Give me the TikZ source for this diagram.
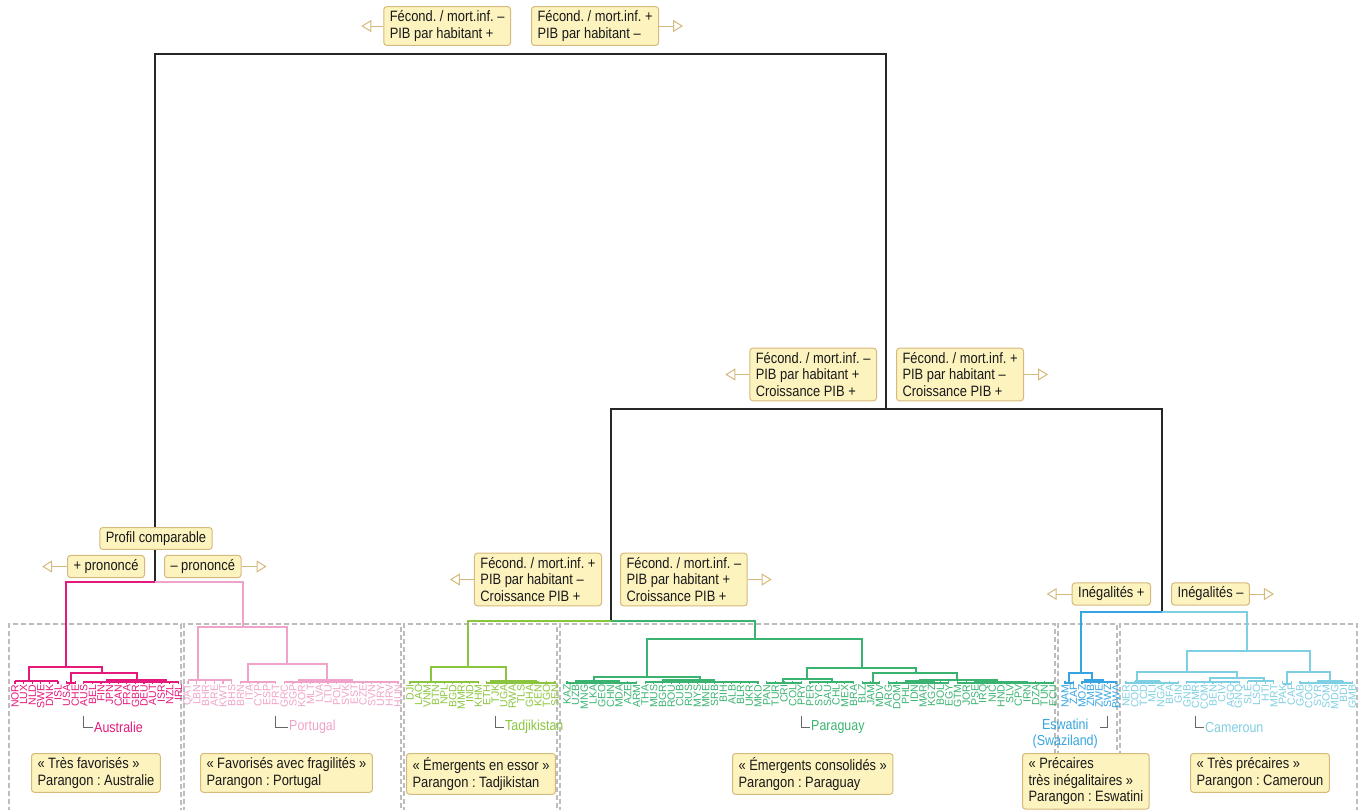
\documentclass[tikz,border=0pt]{standalone}
\usepackage{fontspec}
\setmainfont{Liberation Sans}[FakeStretch=0.86]
\newfontfamily\codefont{Liberation Sans}
\usetikzlibrary{arrows.meta}
\frenchspacing

\definecolor{tan}{HTML}{D6B97C}
\definecolor{cream}{HTML}{FCF3BF}
\definecolor{fav}{HTML}{E5197B}
\definecolor{fragil}{HTML}{F0A3C9}
\definecolor{essor}{HTML}{8BC53F}
\definecolor{consol}{HTML}{3BB370}
\definecolor{inegal}{HTML}{36A4E0}
\definecolor{precaire}{HTML}{7FCFE2}
\definecolor{framegray}{HTML}{BDBDBD}

\newcommand{\dlink}[5]{\draw (#1,#4) -- (#1,#3) -- (#2,#3) -- (#2,#5);}
\newcommand{\grp}[3]{\draw (#1,#3) -- (#2,#3);}
\newcommand{\leafrow}[3]{%
  \foreach \code [count=\i from 0] in {#3} {%
    \node[leaf] (\code) at ({#1+#2*\i},684) {\code};
    \draw (\code.east) -- ++(0,-3);}}

\begin{document}
\begin{tikzpicture}[x=1pt,y=-1pt,
  trunk/.style={line width=1.4pt, draw=black!85},
  clu/.style={line width=1.1pt},
  clusterbox/.style={draw=framegray, dash pattern=on 5pt off 3pt, line width=1.1pt},
  lbl/.style={draw=tan, fill=cream, rounded corners=3pt, line width=1pt, align=left,
    inner xsep=6pt, inner ysep=4pt, text=black!90, font=\fontsize{15}{16.7}\selectfont},
  arr/.style={draw=tan, line width=1pt, -{Triangle[length=10pt,width=12pt,fill=white]}},
  leaf/.style={rotate=90, anchor=east, inner sep=0pt, font=\codefont\fontsize{10.5}{11}\selectfont},
  pname/.style={inner sep=1pt, font=\fontsize{14.5}{15.5}\selectfont},
  mk/.style={draw=black!60, line width=0.8pt}]
\useasboundingbox (0,0) rectangle (1366,809);

\draw[clusterbox] (9,812) |- (181,624) -- (181,812);
\draw[clusterbox] (184,812) |- (401,624) -- (401,812);
\draw[clusterbox] (404,812) |- (557,624) -- (557,812);
\draw[clusterbox] (560,812) |- (1055,624) -- (1055,812);
\draw[clusterbox] (1058,812) |- (1117,624) -- (1117,812);
\draw[clusterbox] (1120,812) |- (1357,624) -- (1357,812);

\draw[trunk] (155,582) -- (155,54) -- (886,54) -- (886,409);
\draw[trunk] (611,621) -- (611,409) -- (1162,409) -- (1162,612);

\begin{scope}[clu, fav]
  \draw (155,582) -- (66,582) -- (66,667);
  \leafrow{15}{8.6}{NOR,LUX,NLD,SWE,DNK,ISL,USA,CHE,AUS,BEL,FIN,JPN,CAN,FRA,GBR,DEU,AUT,ISR,NZL,IRL}
  \dlink{29}{102}{667}{681}{673}
  \dlink{71}{137}{673}{683}{680}
  \grp{15}{58}{681}
  \grp{66.6}{75.2}{683}
  \grp{83.8}{178.4}{682}
  \grp{106}{167}{680}
\end{scope}

\begin{scope}[clu, fragil]
  \draw (155,582) -- (243,582) -- (243,627);
  \leafrow{188}{8.75}{QAT,LBN,BHR,ARE,KWT,BHS,BRN,ITA,CYP,ESP,PRT,GRC,SGP,KOR,MLT,LVA,LTU,POL,SVK,EST,CZE,SVN,URY,HRV,HUN}
  \dlink{198}{287}{627}{680}{664}
  \dlink{248}{327}{664}{682}{680}
  \grp{188}{231.75}{680}
  \grp{240.5}{275.5}{682}
  \grp{284.25}{398}{682}
  \grp{298}{353}{680}
\end{scope}

\begin{scope}[clu, essor]
  \draw (611,621) -- (468,621) -- (468,667);
  \leafrow{410}{8.53}{DJI,LAO,VNM,BTN,NPL,BGD,MMR,IND,KHM,ETH,TJK,UGA,RWA,TLS,GHA,KEN,TGO,SEN}
  \dlink{431}{506}{667}{682}{681}
  \grp{410}{478.2}{682}
  \grp{486.8}{555}{683}
  \grp{490}{537}{681}
\end{scope}

\begin{scope}[clu, consol]
  \draw (611,621) -- (755,621) -- (755,639);
  \leafrow{567}{8.68}{KAZ,UZB,MNG,LKA,GEO,CHN,MDA,AZE,ARM,THA,MUS,BGR,ROU,CUB,RUS,MYS,MNE,SRB,BIH,ALB,BLR,UKR,MKD,PAN,TUR,CRI,COL,PRY,PER,SYC,SAU,CHL,MEX,BRA,BLZ,JAM,MDV,ARG,DOM,PHL,IDN,MAR,KGZ,BOL,EGY,GTM,JOR,PSE,IRQ,NIC,HND,SLV,CPV,IRN,DZA,TUN,ECU}
  \dlink{647}{862}{639}{677}{668}
  \dlink{594}{700}{677}{682}{680}
  \dlink{807}{916}{668}{679}{673}
  \dlink{783}{832}{679}{683}{682}
  \dlink{873}{957}{673}{683}{680}
  \dlink{920}{997}{680}{683}{682}
  \grp{567}{636.4}{683} \grp{575}{620}{681}
  \grp{645.1}{758}{682} \grp{662}{715}{680}
  \grp{766.6}{801.4}{683}
  \grp{810}{853.4}{682}
  \grp{862.1}{879.5}{683}
  \grp{888.2}{948.9}{683} \grp{905}{935}{681}
  \grp{957.6}{1053.1}{683} \grp{975}{1027}{682}
\end{scope}

\begin{scope}[clu, inegal]
  \draw (1162,612) -- (1081,612) -- (1081,673);
  \leafrow{1065}{8.5}{NAM,ZAF,MOZ,ZMB,ZWE,SWZ,BWA}
  \dlink{1069}{1092}{673}{683}{680}
  \grp{1065}{1073.5}{683}
  \grp{1082}{1116}{682}
  \grp{1084}{1104}{680}
\end{scope}

\begin{scope}[clu, precaire]
  \draw (1162,612) -- (1247,612) -- (1247,651);
  \leafrow{1126}{8.7}{NER,COD,TCD,MLI,NGA,BFA,GIN,GNB,CMR,COM,BEN,CIV,AGO,GNQ,SLE,LSO,HTI,MRT,PAK,CAF,GAB,COG,SYR,SOM,MDG,BDI,GMB}
  \dlink{1187}{1310}{651}{672}{672}
  \dlink{1137}{1237}{672}{683}{678}
  \dlink{1210}{1264}{678}{682}{681}
  \dlink{1287}{1330}{672}{684}{681}
  \grp{1126}{1178.2}{683} \grp{1135}{1160}{681}
  \grp{1186.9}{1239.1}{682}
  \grp{1247.8}{1273.9}{681}
  \grp{1282.6}{1291.3}{684}
  \grp{1300}{1352.2}{683} \grp{1317}{1343}{681}
\end{scope}

\coordinate (bot) at (0,716);
\coordinate (eswl) at (1100,727);
\node[pname, text=fav, anchor=west] (aus) at (93,727) {Australie};
\node[pname, text=fragil, anchor=west] (prt) at (288,727) {Portugal};
\node[pname, text=essor, anchor=west] (tjk) at (504,727) {Tadjikistan};
\node[pname, text=consol, anchor=west] (pry) at (810,727) {Paraguay};
\node[pname, text=inegal, anchor=north east, align=center] (esw) at (1099,718) {Eswatini\\(Swaziland)};
\node[pname, text=precaire, anchor=west] (cmr) at (1204,727) {Cameroun};
\draw[mk] (AUS |- bot) |- (aus.west);
\draw[mk] (PRT |- bot) |- (prt.west);
\draw[mk] (TJK |- bot) |- (tjk.west);
\draw[mk] (PRY |- bot) |- (pry.west);
\draw[mk] (SWZ |- bot) |- (eswl);
\draw[mk] (CMR |- bot) |- (cmr.west);

\node[lbl, anchor=east] (t1) at (511,26) {Fécond. / mort.inf. –\\PIB par habitant +};
\node[lbl, anchor=west] (t2) at (531,26) {Fécond. / mort.inf. +\\PIB par habitant –};
\node[lbl, anchor=east] (m1) at (877,374.5) {Fécond. / mort.inf. –\\PIB par habitant +\\Croissance PIB +};
\node[lbl, anchor=west] (m2) at (896,374.5) {Fécond. / mort.inf. +\\PIB par habitant –\\Croissance PIB +};
\node[lbl, anchor=east] (d1) at (602,579.5) {Fécond. / mort.inf. +\\PIB par habitant –\\Croissance PIB +};
\node[lbl, anchor=west] (d2) at (620,579.5) {Fécond. / mort.inf. –\\PIB par habitant +\\Croissance PIB +};
\node[lbl, anchor=east] (e1) at (1151,594) {Inégalités +};
\node[lbl, anchor=west] (e2) at (1171,594) {Inégalités –};
\node[lbl] (pc) at (156,538.5) {Profil comparable};
\node[lbl, anchor=east] (p1) at (145,566.5) {+ prononcé};
\node[lbl, anchor=west] (p2) at (164,566.5) {– prononcé};
\draw[arr] (t1.west) -- ++(-22,0);
\draw[arr] (t2.east) -- ++(24,0);
\draw[arr] (m1.west) -- ++(-24,0);
\draw[arr] (m2.east) -- ++(24,0);
\draw[arr] (d1.west) -- ++(-24,0);
\draw[arr] (d2.east) -- ++(24,0);
\draw[arr] (e1.west) -- ++(-25,0);
\draw[arr] (e2.east) -- ++(24,0);
\draw[arr] (p1.west) -- ++(-25,0);
\draw[arr] (p2.east) -- ++(25,0);

\node[lbl, anchor=north west] (b1) at (31,753) {« Très favorisés »\\Parangon : Australie};
\node[lbl, anchor=north west] (b2) at (200,753) {« Favorisés avec fragilités »\\Parangon : Portugal};
\node[lbl, anchor=north west] (b3) at (406,753) {« Émergents en essor »\\Parangon : Tadjikistan};
\node[lbl, anchor=north west] (b4) at (732,753) {« Émergents consolidés »\\Parangon : Paraguay};
\node[lbl, anchor=north west] (b5) at (1022,753) {« Précaires\\très inégalitaires »\\Parangon : Eswatini};
\node[lbl, anchor=north west] (b6) at (1190,753) {« Très précaires »\\Parangon : Cameroun};
\end{tikzpicture}
\end{document}
